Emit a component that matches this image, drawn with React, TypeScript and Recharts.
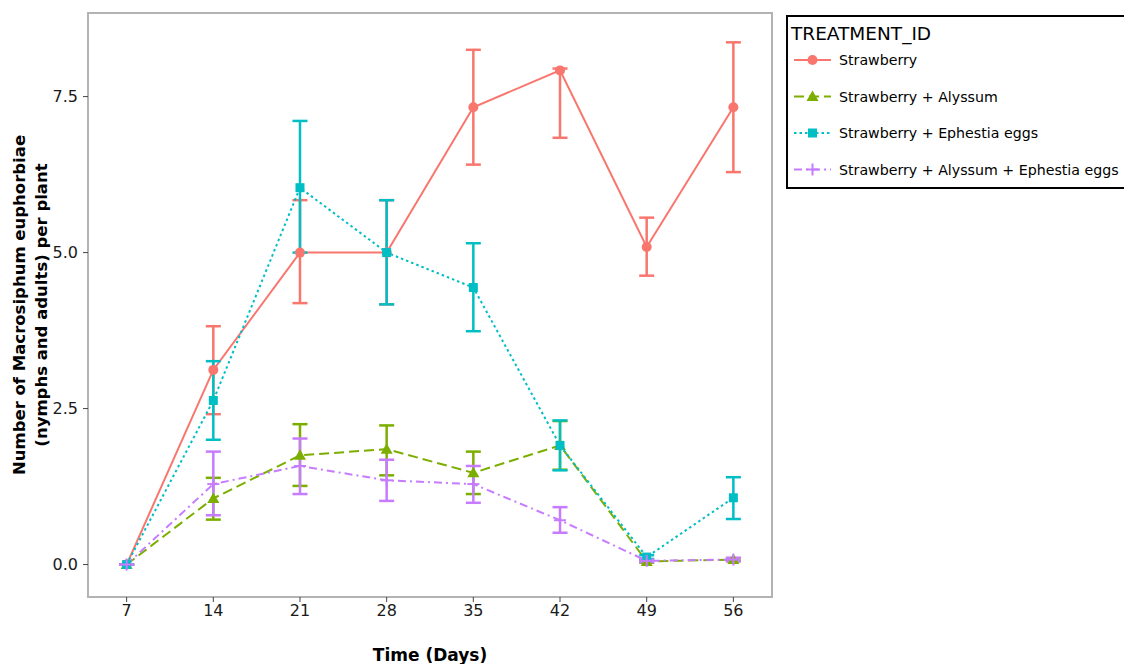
import React from "react";
import { ComposedChart, Line, XAxis, YAxis, ErrorBar, ReferenceArea, Label } from "recharts";

const days = [7, 14, 21, 28, 35, 42, 49, 56];
const xTicks = [7, 14, 21, 28, 35, 42, 49, 56];
const yTicks = [0, 2.5, 5, 7.5];

const strawberry = [0, 3.12, 5.0, 5.0, 7.33, 7.92, 5.09, 7.33];
const strawberryUpper = [0, 3.82, 5.84, 5.84, 8.25, 7.95, 5.56, 8.37];
const strawberryLower = [0, 2.41, 4.19, 4.17, 6.41, 6.84, 4.63, 6.29];

const alyssum = [0, 1.06, 1.75, 1.85, 1.47, 1.91, 0.05, 0.08];
const alyssumUpper = [0, 1.39, 2.25, 2.23, 1.81, 2.3, 0.07, 0.1];
const alyssumLower = [0, 0.72, 1.26, 1.43, 1.13, 1.52, 0.03, 0.06];

const eggs = [0, 2.63, 6.04, 5.0, 4.44, 1.91, 0.12, 1.07];
const eggsUpper = [0, 3.26, 7.11, 5.84, 5.15, 2.31, 0.15, 1.4];
const eggsLower = [0, 2.0, 5.0, 4.17, 3.74, 1.51, 0.09, 0.73];

const both = [0, 1.29, 1.58, 1.35, 1.29, 0.71, 0.06, 0.08];
const bothUpper = [0, 1.81, 2.02, 1.68, 1.58, 0.92, 0.08, 0.11];
const bothLower = [0, 0.79, 1.13, 1.02, 0.99, 0.51, 0.04, 0.05];

const xDomain: [number, number] = [3.88, 59.12];
const yDomain: [number, number] = [-0.52, 8.84];

const FONT = "DejaVu Sans";

const series = [
  { key: "s1", name: "Strawberry", color: "#F8766D", dash: undefined as string | undefined, shape: "circle", mean: strawberry, up: strawberryUpper, lo: strawberryLower },
  { key: "s2", name: "Strawberry + Alyssum", color: "#7CAE00", dash: "10 5", shape: "triangle", mean: alyssum, up: alyssumUpper, lo: alyssumLower },
  { key: "s3", name: "Strawberry + Ephestia eggs", color: "#00BFC4", dash: "2.5 3", shape: "square", mean: eggs, up: eggsUpper, lo: eggsLower },
  { key: "s4", name: "Strawberry + Alyssum + Ephestia eggs", color: "#C77CFF", dash: "8 4 2 4", shape: "plus", mean: both, up: bothUpper, lo: bothLower },
];

const data = days.map((d, i) => {
  const row: any = { day: d };
  series.forEach((s) => {
    row[s.key] = s.mean[i];
    row[s.key + "e"] = [Math.max(0, s.mean[i] - s.lo[i]), Math.max(0, s.up[i] - s.mean[i])];
  });
  return row;
});

function Marker({ shape, color, cx, cy }: { shape: string; color: string; cx: number; cy: number }) {
  if (shape === "circle") return <circle cx={cx} cy={cy} r={5} fill={color} />;
  if (shape === "triangle")
    return <polygon points={`${cx},${cy - 6} ${cx - 6},${cy + 4.5} ${cx + 6},${cy + 4.5}`} fill={color} />;
  if (shape === "square") return <rect x={cx - 4.5} y={cy - 4.5} width={9} height={9} fill={color} />;
  return (
    <g stroke={color} strokeWidth={2}>
      <line x1={cx - 6} y1={cy} x2={cx + 6} y2={cy} />
      <line x1={cx} y1={cy - 6} x2={cx} y2={cy + 6} />
    </g>
  );
}

const makeDot = (shape: string, color: string) => (props: any) => {
  const { cx, cy, index } = props;
  if (cx == null || cy == null) return <g key={index} />;
  return (
    <g key={index}>
      <Marker shape={shape} color={color} cx={cx} cy={cy} />
    </g>
  );
};

function LegendBox() {
  return (
    <svg width={348} height={174} style={{ display: "block", position: "absolute", left: 778, top: 7, overflow: "visible" }}>
      <rect x={1} y={1} width={346} height={172} fill="#fff" stroke="#000" strokeWidth={2} />
      <text x={5} y={25} fontFamily={FONT} fontSize={18.5} fill="#000">TREATMENT_ID</text>
      {series.map((s, i) => {
        const cy = 45 + i * 36.5;
        return (
          <g key={s.key}>
            <line x1={8} y1={cy} x2={45} y2={cy} stroke={s.color} strokeWidth={2} strokeDasharray={s.dash} />
            <Marker shape={s.shape} color={s.color} cx={26.5} cy={cy} />
            <text x={53} y={cy} dominantBaseline="central" fontFamily={FONT} fontSize={14.2} fill="#000">{s.name}</text>
          </g>
        );
      })}
    </svg>
  );
}

const renderYLabel = (props: any) => {
  const vb = props.viewBox || { x: 0, y: 5, width: 80, height: 584 };
  const cy = vb.y + vb.height / 2;
  const lines = ["Number of Macrosiphum euphorbiae", "(nymphs and adults) per plant"];
  return (
    <g>
      {lines.map((t, i) => {
        const cx = 11 + i * 22;
        return (
          <text key={i} x={cx} y={cy} transform={`rotate(-90, ${cx}, ${cy})`} textAnchor="middle" dominantBaseline="central" fontFamily={FONT} fontWeight="bold" fontSize={16.5} fill="#000">{t}</text>
        );
      })}
    </g>
  );
};

const renderXLabel = (props: any) => {
  const vb = props.viewBox || { x: 80, y: 589, width: 684, height: 67 };
  return (
    <text x={vb.x + vb.width / 2} y={vb.y + 58} textAnchor="middle" dominantBaseline="central" fontFamily={FONT} fontWeight="bold" fontSize={17} fill="#000">Time (Days)</text>
  );
};

export default function App() {
  return (
    <div style={{ width: 1124, height: 656, position: "relative" }}>
      <style>{"html,body{overflow:hidden}"}</style>
      <ComposedChart width={1124} height={656} data={data} margin={{ top: 5, right: 360, bottom: 0, left: 0 }}>
        <XAxis
          dataKey="day"
          type="number"
          domain={xDomain}
          allowDataOverflow
          ticks={xTicks}
          axisLine={false}
          tickSize={5}
          tickMargin={3}
          tickLine={{ stroke: "#444", strokeWidth: 1 }}
          tick={{ fontFamily: FONT, fontSize: 16, fill: "#1a1a1a" }}
          height={67}
        >
          <Label content={renderXLabel} />
        </XAxis>
        <YAxis
          type="number"
          domain={yDomain}
          allowDataOverflow
          ticks={yTicks}
          axisLine={false}
          tickSize={5}
          tickMargin={5}
          tickLine={{ stroke: "#444", strokeWidth: 1 }}
          tick={{ fontFamily: FONT, fontSize: 16, fill: "#1a1a1a" }}
          tickFormatter={(v: number) => v.toFixed(1)}
          width={80}
        >
          <Label content={renderYLabel} />
        </YAxis>
        <ReferenceArea x1={xDomain[0]} x2={xDomain[1]} y1={yDomain[0]} y2={yDomain[1]} fill="none" stroke="#B3B3B3" strokeWidth={2} fillOpacity={0} />
        {series.map((s) => (
          <Line
            key={s.key}
            dataKey={s.key}
            name={s.name}
            type="linear"
            stroke={s.color}
            strokeWidth={2}
            strokeDasharray={s.dash}
            dot={makeDot(s.shape, s.color)}
            activeDot={false}
            isAnimationActive={false}
          >
            <ErrorBar dataKey={s.key + "e"} direction="y" width={7.5} stroke={s.color} strokeWidth={2.5} />
          </Line>
        ))}
      </ComposedChart>
      <LegendBox />
    </div>
  );
}
